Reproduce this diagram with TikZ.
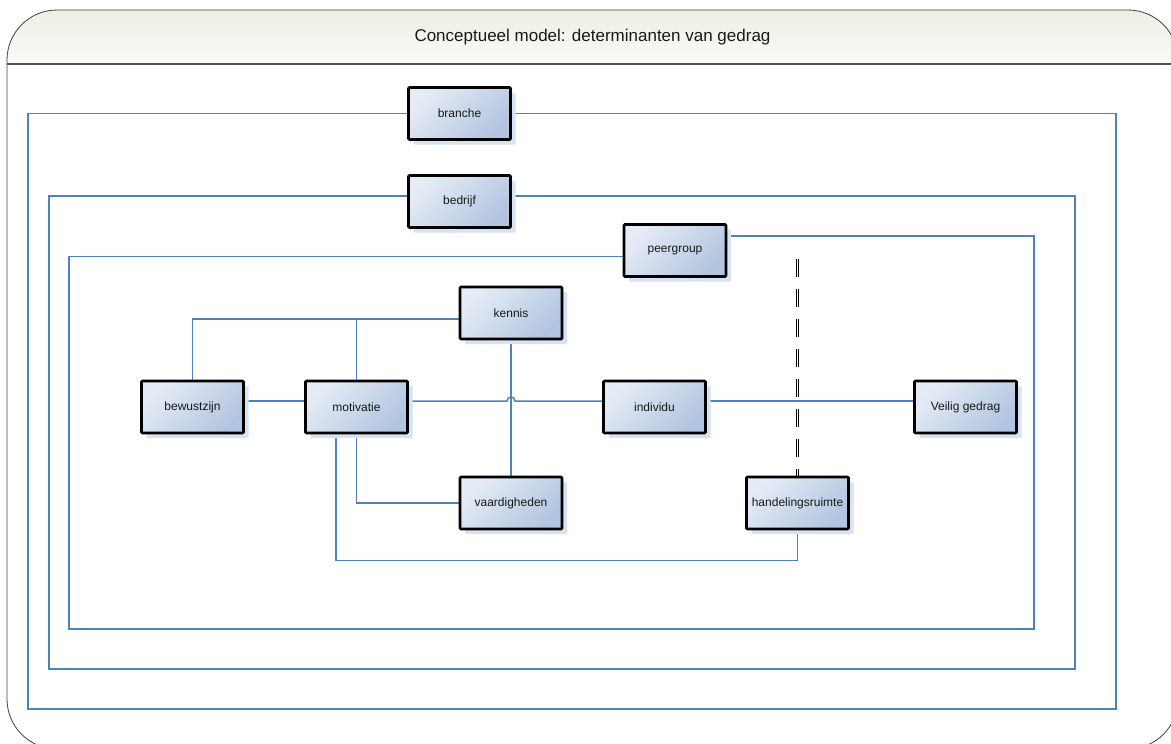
\documentclass[tikz,border=0pt]{standalone}
\usepackage{fontspec}
\setmainfont{Liberation Sans}
\usetikzlibrary{shadows}
\definecolor{lineblue}{HTML}{4F81BD}
\definecolor{boxlight}{HTML}{E6ECF6}
\definecolor{boxdark}{HTML}{B2C5E0}
\definecolor{shadowblue}{HTML}{D7E2F2}
\definecolor{headtop}{HTML}{ECECE3}
\definecolor{headbot}{HTML}{FAFAF7}
\definecolor{framegray}{HTML}{404040}
\pgfdeclarelayer{bg}
\pgfsetlayers{bg,main}
\begin{document}
\begin{tikzpicture}[x=1pt,y=-1pt,
  box/.style={draw=black, line width=2.6pt, rounded corners=1pt,
    minimum width=102pt, minimum height=52pt, inner sep=0pt,
    top color=boxlight, bottom color=boxdark, shading angle=45,
    font=\fontsize{12}{14}\selectfont, text=black!90,
    general shadow={fill=shadowblue, shadow xshift=5pt, shadow yshift=-5pt}},
  conn/.style={draw=lineblue, line width=1.5pt},
  dbl/.style={draw=black, double=white, double distance=1.6pt, line width=0.9pt, dash pattern=on 18pt off 12pt}
  ]
\useasboundingbox (0,0) rectangle (1171,744);

% nodes
\node[box] (branche) at (459.5,113.5) {branche};
\node[box] (bedrijf) at (459.5,201.5) {bedrijf};
\node[box] (peergroup) at (675,250.5) {peergroup};
\node[box] (kennis) at (511,313) {kennis};
\node[box] (bewustzijn) at (192.5,407) {bewustzijn};
\node[box] (motivatie) at (356.5,407) {motivatie};
\node[box] (individu) at (654.5,407) {individu};
\node[box] (veilig) at (965.5,407) {Veilig gedrag};
\node[box] (vaardigheden) at (511,503) {vaardigheden};
\node[box] (handeling) at (797.5,503) {handelingsruimte};

\coordinate (c1) at (28,709);
\coordinate (c2) at (1116,113.5);
\coordinate (d1) at (49,669);
\coordinate (d2) at (1075,196);
\coordinate (p1) at (69,629);
\coordinate (p2) at (1034,236);
\coordinate (hopL) at (507,401);
\coordinate (m1) at (336,560.5);
\coordinate (dtop) at (797.5,259);

\begin{pgfonlayer}{bg}
  \begin{scope}
    \clip[rounded corners=50pt] (7,10) rectangle (1178,749);
    \shade[top color=headtop, bottom color=headbot] (0,0) rectangle (1171,64);
  \end{scope}
  \draw[framegray, line width=0.8pt, rounded corners=50pt] (7,10) rectangle (1178,749);
  \draw[framegray!90, line width=1.5pt] (7,64) -- (1178,64);

  % nested environment loops
  \draw[conn] (branche.west) -| (c1) -| (c2) -- (branche.east);
  \draw[conn] ([yshift=5.5pt]bedrijf.west) -| (d1) -| (d2) -- ([yshift=5.5pt]bedrijf.east);
  \draw[conn] ([yshift=-6pt]peergroup.west) -| (p1) -| (p2) -- ([yshift=14.5pt]peergroup.east);

  % kennis
  \draw[conn] ([yshift=-6pt]kennis.west) -| (bewustzijn.north);
  \draw[conn] (motivatie.north) |- ([yshift=-6pt]kennis.west);
  \draw[conn] (kennis.south) -- (vaardigheden.north);

  % main row
  \draw[conn] ([yshift=6pt]bewustzijn.east) -- ([yshift=6pt]motivatie.west);
  \draw[conn] ([yshift=6pt]motivatie.east) -- (hopL) arc[start angle=180, end angle=0, radius=4pt] -- ([yshift=6pt]individu.west);
  \draw[conn] ([yshift=6pt]individu.east) -- ([yshift=6pt]veilig.west);

  % motivatie below
  \draw[conn] (motivatie.south) |- (vaardigheden.west);
  \draw[conn] ([xshift=-20.5pt]motivatie.south) -- (m1) -| (handeling.south);

  % dashed double line
  \draw[dbl] (dtop) -- (handeling.north);
\end{pgfonlayer}

\node[font=\fontsize{17}{20}\selectfont, text=black!90] (title) at (592.5,37) {Conceptueel model: determinanten van gedrag};
\end{tikzpicture}
\end{document}
